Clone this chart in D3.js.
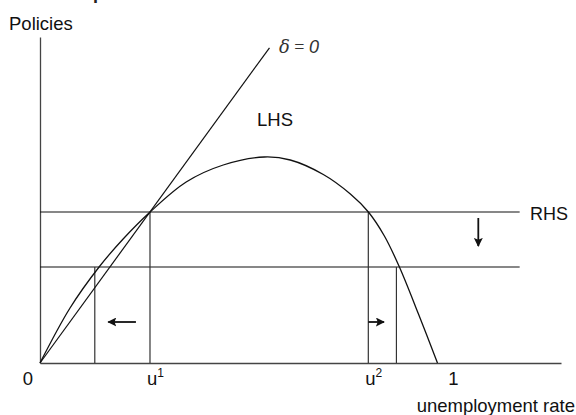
<!DOCTYPE html>
<html><head><meta charset="utf-8">
<script src="https://cdn.jsdelivr.net/npm/d3@7"></script>
<style>
html,body{margin:0;padding:0;background:#fff;}
svg{display:block;font-family:"Liberation Sans",Arial,Helvetica,sans-serif;}
</style></head>
<body><svg id="c" width="576" height="415"></svg>
<script>
// ---- data ----
const title = "Impact of a reduction in the interest rate";
const yLabel = "Policies";
const xLabel = "unemployment rate";
// LHS curve (unemployment rate u, policy value)
const lhsU = [0, 0.0726, 0.1429, 0.2010, 0.2663, 0.3535, 0.4431, 0.5424, 0.6053, 0.6852, 0.7506, 0.7942, 0.8329, 0.8692, 0.9153, 0.9613];
const lhsV = [0, 0.275, 0.48, 0.62, 0.755, 0.905, 0.99, 1.03, 1.015, 0.9425, 0.845, 0.755, 0.635, 0.48, 0.245, 0];
// delta = 0 straight line
const deltaU = [0, 0.555];
const deltaV = [0, 1.576];
// RHS levels (before / after reduction)
const rhsLevels = [0.755, 0.48];
const rhsEndU = 1.16;
// equilibrium unemployment rates
const eqU = [0.266, 0.794, 0.1325, 0.862];
const eqV = [0.755, 0.755, 0.48, 0.48];
// tick labels
const tickU = [0, 0.266, 0.794, 1];
const tickText = ["0", "u", "u", "1"];
const tickSup = ["", "1", "2", ""];
// arrows [u0, v0, u1, v1]
const arrows = [[0.232, 0.205, 0.165, 0.205], [0.794, 0.205, 0.832, 0.205], [1.06, 0.725, 1.06, 0.585]];

// ---- drawing ----
const svg = d3.select("#c");
const x = d3.scaleLinear().domain([0, 1.26]).range([40, 561]);
const y = d3.scaleLinear().domain([0, 1.63]).range([363, 37]);
const ink = "#111";

svg.append("defs").append("marker").attr("id","ah").attr("viewBox","0 0 10 10")
  .attr("refX",9).attr("refY",5).attr("markerWidth",9).attr("markerHeight",9)
  .attr("markerUnits","userSpaceOnUse").attr("orient","auto")
  .append("path").attr("d","M0,0L10,5L0,10L2,5z").attr("fill",ink);

svg.append("text").attr("x",72).attr("y",-1).attr("font-weight","bold").attr("font-size",18)
  .attr("fill","#222").text(title);

// axes (drawn with d3 axis, ticks removed)
const gx = svg.append("g").attr("transform",`translate(0,${y(0)})`)
  .call(d3.axisBottom(x).tickValues([]).tickSizeOuter(0));
const gy = svg.append("g").attr("transform",`translate(${x(0)},0)`)
  .call(d3.axisLeft(y).tickValues([]).tickSizeOuter(0));
[gx,gy].forEach(g=>g.select(".domain").attr("stroke","#444").attr("stroke-width",1.3));

// horizontal RHS lines
svg.selectAll("line.rhs").data(rhsLevels).join("line").attr("class","rhs")
  .attr("x1",x(0)).attr("x2",x(rhsEndU)).attr("y1",d=>y(d)).attr("y2",d=>y(d))
  .attr("stroke",ink).attr("stroke-width",1.2);

// vertical lines
svg.selectAll("line.eq").data(eqU).join("line").attr("class","eq")
  .attr("x1",d=>x(d)).attr("x2",d=>x(d)).attr("y1",y(0)).attr("y2",(d,i)=>y(eqV[i]))
  .attr("stroke","#333").attr("stroke-width",1.2);

// delta = 0 line
const line = d3.line().x(d=>x(d[0])).y(d=>y(d[1]));
svg.append("path").attr("d", line(deltaU.map((u,i)=>[u,deltaV[i]])))
  .attr("fill","none").attr("stroke",ink).attr("stroke-width",1.2);

// LHS curve
svg.append("path").attr("d", line.curve(d3.curveCatmullRom.alpha(0.5))(lhsU.map((u,i)=>[u,lhsV[i]])))
  .attr("fill","none").attr("stroke",ink).attr("stroke-width",1.3);

// arrows
svg.selectAll("line.arr").data(arrows).join("line").attr("class","arr")
  .attr("x1",d=>x(d[0])).attr("y1",d=>y(d[1])).attr("x2",d=>x(d[2])).attr("y2",d=>y(d[3]))
  .attr("stroke",ink).attr("stroke-width",1.8).attr("marker-end","url(#ah)");

// tick labels
const tl = svg.selectAll("text.tick").data(tickU).join("text").attr("class","tick")
  .attr("x",(d,i)=>x(d)+(i===0?-12:(tickSup[i]?-3:0))).attr("y",385)
  .attr("font-size",18.5).attr("fill","#111")
  .attr("text-anchor",(d,i)=>tickSup[i]?"start":"middle");
tl.append("tspan").text((d,i)=>tickText[i]);
tl.append("tspan").attr("dy",-8).attr("font-size",12).text((d,i)=>tickSup[i]);

// labels
svg.append("text").attr("x",9).attr("y",30).attr("font-size",18.5).attr("fill","#111").text(yLabel);
svg.append("text").attr("x",575).attr("y",412).attr("text-anchor","end").attr("font-size",18.5).attr("fill","#111").text(xLabel);
svg.append("text").attr("x",257).attr("y",126).attr("font-size",18.5).attr("fill","#111").text("LHS");
svg.append("text").attr("x",530).attr("y",220).attr("font-size",18).attr("fill","#111").text("RHS");
const dl = svg.append("text").attr("x",279).attr("y",53).attr("font-size",18).attr("fill","#333");
dl.append("tspan").attr("font-family","'DejaVu Serif','Liberation Serif',serif").attr("font-style","italic").text("δ");
dl.append("tspan").attr("font-family","'Liberation Serif',serif").text(" = ");
dl.append("tspan").attr("font-style","italic").text("0");
</script></body></html>
